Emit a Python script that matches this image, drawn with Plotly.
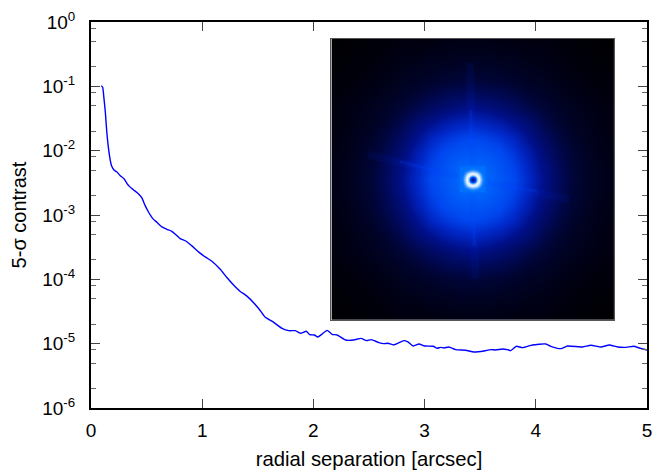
import numpy as np
import plotly.graph_objects as go

# Contrast curve
separation = [.093,.105,.117,.129,.141,.156,.171,.186,.207,.231,.261,.297,.321,.345,.381,.426,.456,.486,.517,.556,
              .592,.637,.682,.727,.766,.802,.856,.907,.967,1.027,1.087,1.162,1.222,1.297,1.342,1.402,1.477,1.523,1.568,1.643,
              1.718,1.778,1.838,1.883,1.937,1.967,2.009,2.039,2.075,2.123,2.168,2.213,2.288,2.363,2.429,2.477,2.520,2.589,2.634,2.670,
              2.724,2.814,2.850,2.898,2.949,3.000,3.078,3.114,3.144,3.174,3.219,3.279,3.369,3.444,3.535,3.595,3.640,3.700,3.745,3.775,
              3.826,3.880,3.970,4.090,4.135,4.225,4.285,4.420,4.495,4.586,4.661,4.736,4.811,4.880,4.931,5.0]
log_contrast = [-.989,-1.015,-1.196,-1.403,-1.687,-1.945,-2.126,-2.240,-2.302,-2.328,-2.385,-2.437,-2.504,-2.555,-2.607,-2.669,-2.731,-2.850,-2.953,-3.056,
                -3.113,-3.185,-3.222,-3.253,-3.310,-3.366,-3.408,-3.480,-3.573,-3.651,-3.718,-3.842,-3.972,-4.116,-4.188,-4.261,-4.390,-4.488,-4.591,-4.669,
                -4.762,-4.798,-4.798,-4.839,-4.808,-4.860,-4.865,-4.896,-4.855,-4.793,-4.855,-4.865,-4.943,-4.943,-4.917,-4.953,-4.937,-4.984,-4.999,-4.994,
                -5.020,-4.953,-4.974,-5.036,-5.005,-5.036,-5.041,-5.072,-5.057,-5.067,-5.051,-5.093,-5.103,-5.129,-5.113,-5.093,-5.098,-5.083,-5.093,-5.108,
                -5.041,-5.062,-5.020,-5.005,-5.041,-5.077,-5.036,-5.051,-5.025,-5.051,-5.020,-5.051,-5.057,-5.041,-5.067,-5.098]

y_major = [1e0,1e-1,1e-2,1e-3,1e-4,1e-5,1e-6]
y_labels = ["10<sup>0</sup>","10<sup>-1</sup>","10<sup>-2</sup>","10<sup>-3</sup>","10<sup>-4</sup>","10<sup>-5</sup>","10<sup>-6</sup>"]
y_minor = [f*10.0**e for e in range(-6,0) for f in (2,5,8)]
x_major = [0,1,2,3,4,5]

# Inset image, estimated brightness (percent) on a coarse grid
halo_axis = [-141,-127,-113,-99,-85,-71,-56,-42,-28,-14,0,14,28,42,56,71,85,99,113,127,141]
halo = [
 [0,1,1,2,2,3,3,3,4,4,4,4,4,3,3,3,2,2,1,1,0],
 [1,1,2,2,3,4,4,5,5,6,6,6,5,5,4,4,3,2,2,1,1],
 [1,2,2,3,4,5,6,7,8,9,9,9,8,7,6,5,4,3,2,2,1],
 [2,2,3,4,5,7,8,10,12,13,14,13,12,10,8,7,5,4,3,2,2],
 [2,3,4,5,7,9,12,16,19,21,22,21,19,16,12,9,7,5,4,3,2],
 [3,4,5,7,9,13,18,23,27,31,33,31,27,23,18,13,9,7,5,4,3],
 [3,4,6,8,12,18,27,33,40,44,46,44,40,33,27,18,12,8,6,4,3],
 [3,5,7,10,16,23,33,44,50,54,56,54,50,44,33,23,16,10,7,5,3],
 [4,5,8,12,19,27,40,50,57,60,62,60,57,50,40,27,19,12,8,5,4],
 [4,6,9,13,21,31,44,54,60,66,68,66,60,54,44,31,21,13,9,6,4],
 [4,6,9,14,22,33,46,56,62,68,72,68,62,56,46,33,22,14,9,6,4],
 [4,6,9,13,21,31,44,54,60,66,68,66,60,54,44,31,21,13,9,6,4],
 [4,5,8,12,19,27,40,50,57,60,62,60,57,50,40,27,19,12,8,5,4],
 [3,5,7,10,16,23,33,44,50,54,56,54,50,44,33,23,16,10,7,5,3],
 [3,4,6,8,12,18,27,33,40,44,46,44,40,33,27,18,12,8,6,4,3],
 [3,4,5,7,9,13,18,23,27,31,33,31,27,23,18,13,9,7,5,4,3],
 [2,3,4,5,7,9,12,16,19,21,22,21,19,16,12,9,7,5,4,3,2],
 [2,2,3,4,5,7,8,10,12,13,14,13,12,10,8,7,5,4,3,2,2],
 [1,2,2,3,4,5,6,7,8,9,9,9,8,7,6,5,4,3,2,2,1],
 [1,1,2,2,3,4,4,5,5,6,6,6,5,5,4,4,3,2,2,1,1],
 [0,1,1,2,2,3,3,3,4,4,4,4,4,3,3,3,2,2,1,1,0],
]
core_axis = [-12,-10,-8,-6,-4,-2,0,2,4,6,8,10,12]
core = [
 [72,72,72,72,72,72,72,72,72,72,72,72,72],
 [72,72,72,72,73,74,75,74,73,72,72,72,72],
 [72,72,73,76,82,85,88,85,82,76,73,72,72],
 [72,72,76,87,95,100,100,100,95,87,76,72,72],
 [72,73,82,95,100,92,85,92,100,95,82,73,72],
 [72,74,85,100,92,60,42,60,92,100,85,74,72],
 [72,75,88,100,85,42,33,42,85,100,88,75,72],
 [72,74,85,100,92,60,42,60,92,100,85,74,72],
 [72,73,82,95,100,92,85,92,100,95,82,73,72],
 [72,72,76,87,95,100,100,100,95,87,76,72,72],
 [72,72,73,76,82,85,88,85,82,76,73,72,72],
 [72,72,72,72,73,74,75,74,73,72,72,72,72],
 [72,72,72,72,72,72,72,72,72,72,72,72,72],
]
colours = [[0,"#000000"],[.04,"#000014"],[.09,"#000328"],[.14,"#00053c"],[.22,"#000a60"],[.33,"#00108c"],
           [.46,"#0028c8"],[.56,"#0048f0"],[.72,"#0070ff"],[.85,"#70b8ff"],[1,"#ffffff"]]

# Diffraction spikes in the inset: [x0, x1], [y0, y1]
spike_x = [[-2,-1],[0,2],[-73,-15],[15,64]]
spike_y = [[70,15],[-15,-67],[18,3],[-3,-12]]
far_x = [[-3,0],[0,3],[-105,-15],[15,97]]
far_y = [[117,15],[-15,-100],[25,3],[-3,-20]]

fig = go.Figure()
fig.add_trace(go.Scatter(x=separation, y=10.0**np.array(log_contrast), mode="lines",
                         line=dict(color="#0000ff", width=1.4, shape="spline", smoothing=.5),
                         hoverinfo="skip", showlegend=False))
fig.add_trace(go.Heatmap(x=halo_axis, y=halo_axis, z=halo, zmin=0, zmax=100, colorscale=colours, zsmooth="best",
                         showscale=False, hoverinfo="skip", xaxis="x2", yaxis="y2"))
for xs, ys in zip(far_x, far_y):
    fig.add_trace(go.Scatter(x=xs, y=ys, mode="lines", line=dict(color="rgba(0,50,255,.08)", width=8),
                             hoverinfo="skip", showlegend=False, xaxis="x2", yaxis="y2"))
for xs, ys in zip(spike_x, spike_y):
    fig.add_trace(go.Scatter(x=xs, y=ys, mode="lines", line=dict(color="rgba(0,80,255,.18)", width=3),
                             hoverinfo="skip", showlegend=False, xaxis="x2", yaxis="y2"))
fig.add_trace(go.Heatmap(x=core_axis, y=core_axis, z=core, zmin=0, zmax=100, colorscale=colours, zsmooth="best",
                         showscale=False, hoverinfo="skip", xaxis="x2", yaxis="y2"))

font = dict(family="Liberation Sans, Arial, sans-serif", color="#000000")
fig.update_layout(
    width=661, height=462, autosize=False, paper_bgcolor="white", plot_bgcolor="white",
    margin=dict(l=83, r=22, t=13.5, b=61.5), font=font, showlegend=False,
    xaxis=dict(range=[0,5], tickmode="array", tickvals=x_major, ticks="inside", ticklen=9, tickwidth=1, tickcolor="#444",
               showline=True, linecolor="#000", linewidth=2, mirror="ticks", showgrid=False, zeroline=False,
               tickfont=dict(size=19), ticklabelstandoff=4, automargin=False,
               title=dict(text="radial separation [arcsec]", font=dict(size=20.3), standoff=19)),
    yaxis=dict(type="log", range=[-6,0], tickmode="array", tickvals=y_major, ticktext=y_labels, ticks="inside", ticklen=9,
               tickwidth=1, tickcolor="#444", showline=True, linecolor="#000", linewidth=2, mirror="ticks", showgrid=False,
               zeroline=False, tickfont=dict(size=19), ticklabelstandoff=10, automargin=False,
               minor=dict(tickmode="array", tickvals=y_minor, ticks="inside", ticklen=5, tickwidth=1, tickcolor="#666"),
               title=dict(text="5-σ contrast", font=dict(size=20), standoff=14)),
    xaxis2=dict(domain=[.4324,.9405], anchor="y2", range=[-141,141], visible=True, showticklabels=False, ticks="",
                showgrid=False, zeroline=False, showline=True, linecolor="#555", linewidth=1, mirror=True),
    yaxis2=dict(domain=[.2284,.9561], anchor="x2", range=[-141,141], visible=True, showticklabels=False, ticks="",
                showgrid=False, zeroline=False, showline=True, linecolor="#555", linewidth=1, mirror=True),
)
fig.write_html("out.html", config=dict(displayModeBar=False))
